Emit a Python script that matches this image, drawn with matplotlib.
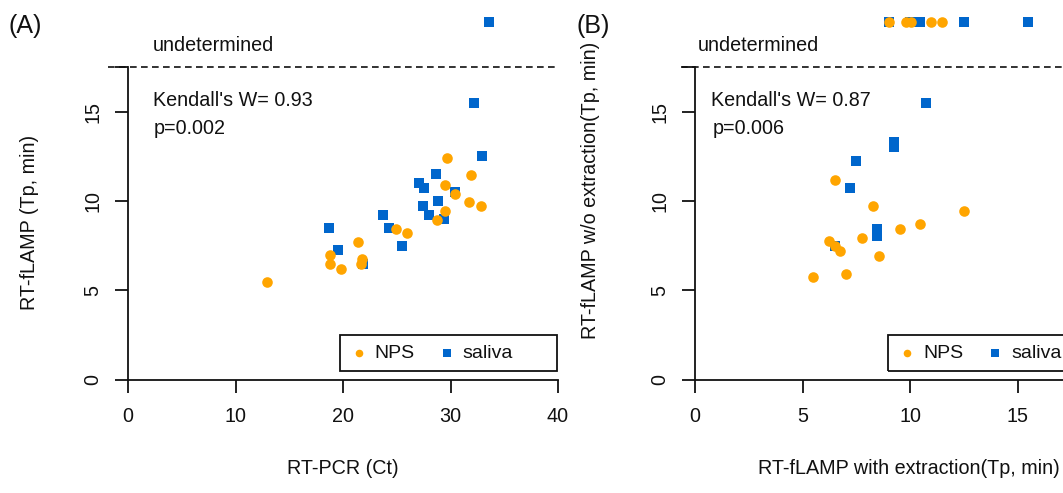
import numpy as np
import matplotlib
matplotlib.use('Agg')
import matplotlib.pyplot as plt

plt.rcParams['font.family'] = ['Liberation Sans', 'DejaVu Sans']

# 未检出的样本画在 y=20
UNDET = 20

# (A) RT-PCR Ct vs RT-fLAMP Tp
a_nps_x = [29.7, 31.9, 29.5, 30.4, 31.7, 32.8, 29.5, 28.7, 24.9, 25.95, 21.4, 18.8, 21.8, 21.7, 18.8, 19.8, 12.9]
a_nps_y = [12.4, 11.45, 10.9, 10.4, 9.94, 9.72, 9.44, 8.94, 8.44, 8.2, 7.7, 6.96, 6.76, 6.46, 6.46, 6.22, 5.46]
a_sal_x = [32.2, 32.9, 28.65, 27.1, 27.5, 30.4, 28.8, 27.4, 28.0, 29.4, 23.7, 24.3, 18.7, 25.5, 19.5, 21.9, 33.6]
a_sal_y = [15.5, 12.5, 11.5, 11.0, 10.7, 10.5, 10.0, 9.74, 9.24, 9.0, 9.2, 8.5, 8.5, 7.5, 7.25, 6.5, UNDET]

# (B) with extraction vs w/o extraction
b_nps_x = [6.5, 8.27, 12.5, 10.47, 9.53, 7.74, 6.23, 6.5, 6.73, 8.54, 7.02, 5.5, 9.0, 9.8, 10.05, 10.95, 11.5]
b_nps_y = [11.2, 9.72, 9.44, 8.72, 8.44, 7.95, 7.77, 7.49, 7.2, 6.95, 5.94, 5.74, UNDET, UNDET, UNDET, UNDET, UNDET]
b_sal_x = [10.73, 9.24, 9.24, 7.49, 7.21, 8.47, 8.47, 6.5, 9.0, 10.0, 10.48, 12.49, 15.5]
b_sal_y = [15.5, 13.0, 13.3, 12.25, 10.7, 8.46, 8.07, 7.49, UNDET, UNDET, UNDET, UNDET, UNDET]

ORANGE = '#FFA500'
BLUE = '#0066CC'
TXT = '#111111'
FS = 14.2

W, H = 1063, 493
fig = plt.figure(figsize=(W / 100, H / 100), dpi=100)


def px_axes(left, top, right, bottom):
    return fig.add_axes([left / W, 1 - bottom / H, (right - left) / W, (bottom - top) / H])


def style_axes(ax, xmax, xticks):
    for s in ['top', 'right']:
        ax.spines[s].set_visible(False)
    ax.spines['left'].set_position(('data', 0))
    ax.spines['bottom'].set_position(('data', 0))
    ax.spines['left'].set_bounds(0, 17.5)
    ax.spines['bottom'].set_bounds(0, xmax)
    for s in ['left', 'bottom']:
        ax.spines[s].set_linewidth(1.3)
        ax.spines[s].set_color(TXT)
    ax.set_xticks(xticks)
    ax.set_yticks([0, 5, 10, 15, 17.5])
    ax.set_yticklabels(['0', '5', '10', '15', ''])
    ax.tick_params(direction='out', length=9.4, width=1.3, colors=TXT, labelsize=FS)
    ax.tick_params(axis='x', pad=10)
    ax.tick_params(axis='y', pad=9)
    plt.setp(ax.get_yticklabels(), rotation=90, va='center')


def draw_panel(ax, nps_x, nps_y, sal_x, sal_y, ppu, dash_x0, dash_x1,
               und_x, k_x, p_x, w, p, leg_x0, leg_x1):
    ax.scatter(sal_x, sal_y, marker='s', s=54, color=BLUE, linewidths=0, zorder=3, clip_on=False)
    ax.scatter(nps_x, nps_y, marker='o', s=58, color=ORANGE, linewidths=0, zorder=4, clip_on=False)
    ax.plot([dash_x0, dash_x1], [17.5, 17.5], color=TXT, lw=1.2,
            linestyle=(0, (4, 2.6)), clip_on=False)
    ax.set_ylim(-0.8, 20.8)
    ax.text(und_x, 18.7, 'undetermined', fontsize=FS, color=TXT, va='center', ha='left')
    ax.text(k_x, 15.62, "Kendall's W= " + w, fontsize=FS, color=TXT, va='center', ha='left')
    ax.text(p_x, 14.06, 'p=' + p, fontsize=FS, color=TXT, va='center', ha='left')
    # 图例
    rect = plt.Rectangle((leg_x0, 0.5), leg_x1 - leg_x0, 2.0, fill=False,
                         edgecolor=TXT, lw=1.3, zorder=5, clip_on=False)
    ax.add_patch(rect)
    h1 = ax.scatter([], [], marker='o', s=30, color=ORANGE, linewidths=0)
    h2 = ax.scatter([], [], marker='s', s=26, color=BLUE, linewidths=0)
    ax.legend([h1, h2], ['NPS', 'saliva'], ncol=2, frameon=False, fontsize=14,
              loc='center left', bbox_to_anchor=(leg_x0 + 12 / ppu, 1.5), bbox_transform=ax.transData,
              borderpad=0, borderaxespad=0, handlelength=0.7, handletextpad=0.48,
              columnspacing=1.28, scatterpoints=1, labelcolor=TXT)


# 面板 A
ax1 = px_axes(110.8, 7.7, 575.2, 394.3)
style_axes(ax1, 40, [0, 10, 20, 30, 40])
draw_panel(ax1, a_nps_x, a_nps_y, a_sal_x, a_sal_y, 10.75, -1.85, 39.7,
           2.33, 2.33, 2.4, '0.93', '0.002', 19.7, 39.9)
ax1.set_xlim(-1.6, 41.6)
fig.text(343 / W, 1 - 468 / H, 'RT-PCR (Ct)', fontsize=FS, color=TXT, ha='center', va='center')
fig.text(30 / W, 1 - 222 / H, 'RT-fLAMP (Tp, min)', fontsize=FS, color=TXT,
         ha='center', va='center', rotation=90)
fig.text(8 / W, 1 - 26 / H, '(A)', fontsize=18, color=TXT, ha='left', va='center')

# 面板 B（右侧被裁掉）
ax2 = px_axes(677.9, 7.7, 1142.3, 394.3)
style_axes(ax2, 20, [0, 5, 10, 15])
draw_panel(ax2, b_nps_x, b_nps_y, b_sal_x, b_sal_y, 21.4, -0.65, 20.5,
           0.14, 0.75, 0.8, '0.87', '0.006', 8.97, 19.0)
ax2.set_xlim(-0.8, 20.8)
fig.text(909 / W, 1 - 468 / H, 'RT-fLAMP with extraction(Tp, min)', fontsize=FS, color=TXT,
         ha='center', va='center')
fig.text(590 / W, 1 - 190 / H, 'RT-fLAMP w/o extraction(Tp, min)', fontsize=FS, color=TXT,
         ha='center', va='center', rotation=90)
fig.text(577 / W, 1 - 26 / H, '(B)', fontsize=18, color=TXT, ha='left', va='center')

fig.savefig('out.png', dpi=100)
